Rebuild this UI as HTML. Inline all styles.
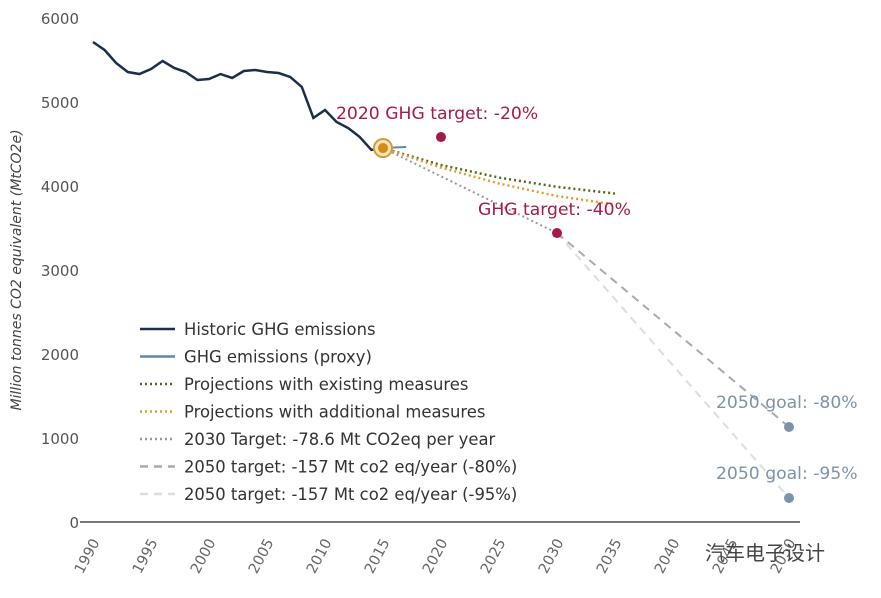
<!DOCTYPE html>
<html><head><meta charset="utf-8"><style>
body{margin:0;background:#fff;width:881px;height:593px;overflow:hidden}
svg{font-family:"DejaVu Sans","Noto Sans CJK SC",sans-serif}
</style></head><body>
<svg id="chart" width="881" height="593"></svg>
<script>
const years=[1990,1991,1992,1993,1994,1995,1996,1997,1998,1999,2000,2001,2002,2003,2004,2005,2006,2007,2008,2009,2010,2011,2012,2013,2014,2015];
const historic=[5714,5619,5464,5357,5333,5393,5488,5405,5357,5262,5274,5333,5286,5369,5381,5357,5345,5298,5179,4810,4905,4762,4690,4583,4429,4452];
const proxyYears=[2015,2017];
const proxy=[4452,4464];
const projYears=[2015,2020,2025,2030,2035];
const projExisting=[4452,4250,4100,3990,3910];
const projAdditional=[4452,4220,4030,3880,3780];
const t2030Years=[2015,2030];
const t2030=[4452,3440];
const t80Years=[2030,2050];
const t80=[3440,1131];
const t95Years=[2030,2050];
const t95=[3440,286];
const yTicks=[0,1000,2000,3000,4000,5000,6000];
const xTicks=[1990,1995,2000,2005,2010,2015,2020,2025,2030,2035,2040,2045,2050];
const targets=[{y:2020,v:4583,label:"2020 GHG target: -20%",c:"#a8194a"},{y:2030,v:3440,label:"GHG target: -40%",c:"#a8194a"},{y:2050,v:1131,label:"2050 goal: -80%",c:"#7d93a8"},{y:2050,v:286,label:"2050 goal: -95%",c:"#7d93a8"}];
const NS="http://www.w3.org/2000/svg";
const svg=document.getElementById('chart');
const X=y=>93+(y-1990)*11.6;
const Y=v=>522-v*0.084;
function el(t,a,p){const e=document.createElementNS(NS,t);for(const k in a)e.setAttribute(k,a[k]);(p||svg).appendChild(e);return e;}
let ax=el('line',{x1:80,x2:800,y1:522,y2:522,stroke:'#777','stroke-width':2});


yTicks.forEach(v=>{const t=el('text',{x:79,y:Y(v)+6,'text-anchor':'end','font-size':15,fill:'#555'});t.textContent=v;

});
xTicks.forEach(v=>{const t=el('text',{x:0,y:0,'text-anchor':'end','font-size':14.5,fill:'#666',transform:`translate(${X(v)+7},542) rotate(-62)`});t.textContent=v;

});
let yt=el('text',{x:0,y:0,'text-anchor':'middle','font-size':14,'font-style':'italic',fill:'#444',transform:'translate(21,270) rotate(-90)'});yt.textContent='Million tonnes CO2 equivalent (MtCO2e)';


function line(xs,vs,st,name){const p=el('polyline',Object.assign({points:xs.map((x,i)=>X(x)+','+Y(vs[i])).join(' '),fill:'none'},st));

}
line(t95Years,t95,{stroke:'#ddd','stroke-width':2,'stroke-dasharray':'8,6'},'target-2050-95-line');
line(t80Years,t80,{stroke:'#aaa','stroke-width':2,'stroke-dasharray':'8,6'},'target-2050-80-line');
line(t2030Years,t2030,{stroke:'#999','stroke-width':2,'stroke-dasharray':'2,3'},'target-2030-line');
line(projYears,projExisting,{stroke:'#4f6a1c','stroke-width':2.5,'stroke-dasharray':'2,3'},'projection-existing-line');
line(projYears,projAdditional,{stroke:'#e89a2c','stroke-width':2.5,'stroke-dasharray':'2,3'},'projection-additional-line');
line(years,historic,{stroke:'#1b2f4b','stroke-width':2.5},'historic-line');
line(proxyYears,proxy,{stroke:'#5e88a8','stroke-width':2},'proxy-line');
let c1=el('circle',{cx:X(2015),cy:Y(4452),r:9,fill:'#fbe6b8',stroke:'#d49a3a','stroke-width':2});


el('circle',{cx:X(2015),cy:Y(4452),r:5,fill:'#d98a16'});
const lpos=[[336,119],[478,215],[716,408],[716,479]];
targets.forEach((t,i)=>{const c=el('circle',{cx:X(t.y),cy:Y(t.v),r:5,fill:t.c});


const tx=el('text',{x:lpos[i][0],y:lpos[i][1],'font-size':17.2,fill:t.c});tx.textContent=t.label;

});
const legend=[['Historic GHG emissions','#1b2f4b',''],['GHG emissions (proxy)','#5e88a8',''],['Projections with existing measures','#4f6a1c','2,3'],['Projections with additional measures','#e89a2c','2,3'],['2030 Target: -78.6 Mt CO2eq per year','#999','2,3'],['2050 target: -157 Mt co2 eq/year (-80%)','#aaa','8,6'],['2050 target: -157 Mt co2 eq/year (-95%)','#ddd','8,6']];
legend.forEach((l,i)=>{const y=329+i*27.5;const g=el('g',{});


el('line',{x1:140,x2:175,y1:y,y2:y,stroke:l[1],'stroke-width':2.5,'stroke-dasharray':l[2]},g);
const t=el('text',{x:184,y:y+6,'font-size':16.4,fill:'#333'},g);t.textContent=l[0];});
let wm=el('text',{x:705,y:560,'font-size':20,fill:'#444'});wm.textContent='汽车电子设计';


</script>
</body></html>
